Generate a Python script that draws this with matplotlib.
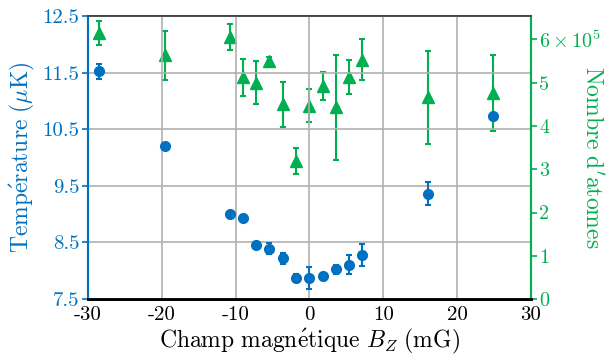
import numpy as np
import matplotlib.pyplot as plt

plt.rcParams['font.family'] = ['cmr10', 'DejaVu Serif']
plt.rcParams['mathtext.fontset'] = 'cm'
plt.rcParams['axes.unicode_minus'] = False
plt.rcParams['axes.formatter.use_mathtext'] = True

blue = '#0070C0'
green = '#00B050'

# champ magnetique (mG)
bz = [-28.5, -19.6, -10.7, -8.95, -7.2, -5.4, -3.6, -1.76, 0.0, 1.8, 3.57, 5.33, 7.15, 16.05, 24.9]

# temperature (uK)
temp = [11.52, 10.20, 9.00, 8.93, 8.46, 8.39, 8.22, 7.88, 7.87, 7.90, 8.03, 8.11, 8.28, 9.36, 10.73]
temp_err = [0.14, 0.05, 0.03, 0.05, 0.05, 0.1, 0.1, 0.07, 0.19, 0.06, 0.08, 0.17, 0.2, 0.2, 0.05]

# nombre d'atomes (x1e5)
atoms = [6.15, 5.63, 6.06, 5.12, 5.00, 5.50, 4.50, 3.19, 4.47, 4.92, 4.43, 5.13, 5.53, 4.66, 4.76]
atoms_err = [0.28, 0.56, 0.30, 0.43, 0.49, 0.1, 0.52, 0.3, 0.38, 0.33, 1.22, 0.39, 0.48, 1.08, 0.88]

fig = plt.figure(figsize=(6.06, 3.63), dpi=100)
ax = fig.add_axes([0.145, 0.176, 0.731, 0.78])
ax2 = ax.twinx()

ax2.errorbar(bz, np.array(atoms) * 1e5, yerr=np.array(atoms_err) * 1e5, fmt='^',
             color=green, markersize=8, capsize=2.5, elinewidth=1.5, capthick=1.5)
ax.errorbar(bz, temp, yerr=temp_err, fmt='o', color=blue, markersize=7,
            capsize=2.5, elinewidth=1.5, capthick=1.5)
ax.set_zorder(ax2.get_zorder() + 1)
ax.patch.set_visible(False)

ax.set_xlim(-30, 30)
ax.set_ylim(7.5, 12.5)
ax.set_xticks([-30, -20, -10, 0, 10, 20, 30])
ax.set_xticklabels(['-30', '-20', '-10', '0', '10', '20', '30'])
ax.set_yticks([7.5, 8.5, 9.5, 10.5, 11.5, 12.5])
ax.set_yticklabels(['7.5', '8.5', '9.5', '10.5', '11.5', '12.5'])
ax.grid(True, color='#b0b0b0', linewidth=1.2)
ax.tick_params(axis='x', length=0, labelsize=15, pad=5)
ax.tick_params(axis='y', colors=blue, labelsize=15, length=4, width=1.2, pad=2)

ax2.set_ylim(0, 6.54e5)
ax2.set_yticks([0, 1e5, 2e5, 3e5, 4e5, 5e5, 6e5])
ax2.set_yticklabels(['0', '1', '2', '3', '4', '5', r'$6\times10^5$'])
ax2.tick_params(axis='y', colors=green, labelsize=14.5, length=4, width=1.2, pad=2)

ax.set_xlabel(r'$\mathrm{Champ\ magn\acute{e}tique}\ B_Z\ \mathrm{(mG)}$', fontsize=17, labelpad=2)
ax.set_ylabel(r'$\mathrm{Temp\acute{e}rature\ (\mu K)}$', color=blue, fontsize=17, va='center')
ax.yaxis.set_label_coords(-0.148, 0.5)
ax2.set_ylabel(r"$\mathrm{Nombre\ d'atomes}$", color=green, fontsize=17, rotation=270,
               va='center')
ax2.yaxis.set_label_coords(1.135, 0.5)

for a in (ax, ax2):
    a.spines['left'].set_color(blue)
    a.spines['left'].set_linewidth(1.5)
    a.spines['right'].set_color(green)
    a.spines['right'].set_linewidth(1.5)
    a.spines['bottom'].set_color('black')
    a.spines['bottom'].set_linewidth(2)
    a.spines['top'].set_color('#404040')
    a.spines['top'].set_linewidth(1.2)

fig.savefig('out.png', dpi=100)
